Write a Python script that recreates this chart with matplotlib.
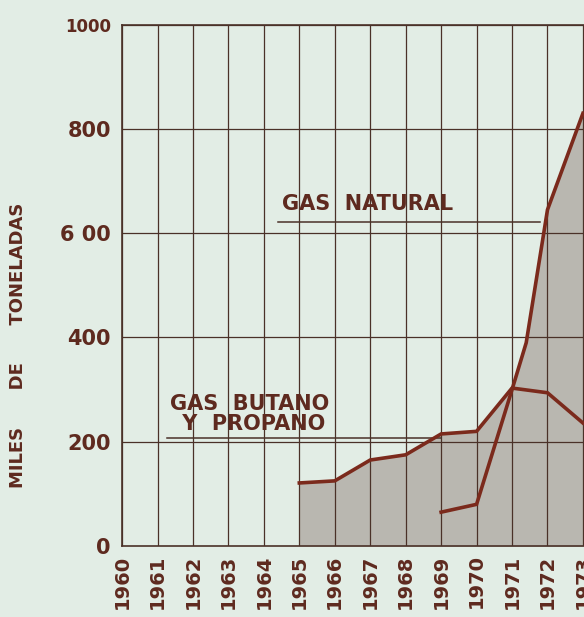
#! /usr/bin/env python3

# import packages
import matplotlib
matplotlib.use("Agg")
import matplotlib.pyplot as plt

# data
years = list(range(1960, 1974))
year_labels = [str(y) for y in years]

butano_years = [1965, 1966, 1967, 1968, 1969, 1970, 1971, 1972, 1973]
butano = [121, 125, 165, 175, 215, 220, 303, 294, 236]

natural_years = [1969, 1970, 1971, 1971.4, 1972, 1973]
natural = [65, 80, 300, 390, 645, 830]

y_ticks = [0, 200, 400, 600, 800, 1000]
y_labels = ["0", "200", "400", "6 00", "800", "1000"]

# colours
bg = "#e2ede5"
grid_col = "#4a3128"
line_col = "#7b2a1c"
text_col = "#5e2a1f"
fill_col = "#b9b7b0"

fig = plt.figure(figsize=(5.84, 6.17), dpi=100)
fig.patch.set_facecolor(bg)
ax = fig.add_axes([0.209, 0.115, 0.791, 0.845])
ax.set_facecolor(bg)

# shaded area under both series
ax.fill_between(butano_years, butano, 0, color=fill_col, lw=0, zorder=1)
ax.fill_between(natural_years, natural, 0, color=fill_col, lw=0, zorder=1)

# grid
for y in years:
    ax.axvline(y, color=grid_col, lw=0.9, zorder=2)
for v in y_ticks[1:]:
    ax.axhline(v, color=grid_col, lw=0.9, zorder=2)

# lines
ax.plot(butano_years, butano, color=line_col, lw=2.6, zorder=3,
        solid_joinstyle="miter")
ax.plot(natural_years, natural, color=line_col, lw=2.6, zorder=3,
        solid_joinstyle="miter")

# labels with underlines
ax.text(1964.5, 637, "GAS  NATURAL", color=text_col, fontsize=15,
        fontweight="bold", ha="left", va="bottom", zorder=4)
ax.plot([1964.4, 1971.8], [622, 622], color=grid_col, lw=1.1, zorder=2)

ax.text(1961.35, 254, "GAS  BUTANO", color=text_col, fontsize=15,
        fontweight="bold", ha="left", va="bottom", zorder=4)
ax.text(1961.5, 214, " Y  PROPANO", color=text_col, fontsize=15,
        fontweight="bold", ha="left", va="bottom", zorder=4)
ax.plot([1961.27, 1969.0], [207, 207], color=grid_col, lw=1.1, zorder=2)

# axes
ax.set_xlim(1960, 1973.03)
ax.set_ylim(0, 1000)
ax.set_xticks(years)
ax.set_xticklabels(year_labels, rotation=90, fontsize=14, fontweight="bold",
                   color=text_col)
ax.set_yticks(y_ticks)
ax.set_yticklabels(y_labels, fontsize=15, fontweight="bold", color=text_col)
ax.get_yticklabels()[-1].set_fontsize(12)
ax.tick_params(axis="both", length=0)
ax.tick_params(axis="y", pad=8)
ax.tick_params(axis="x", pad=6)

for s in ["top", "left", "bottom"]:
    ax.spines[s].set_color(grid_col)
    ax.spines[s].set_linewidth(1.2)
ax.spines["right"].set_visible(False)

fig.text(0.03, 0.44, "MILES      DE      TONELADAS", rotation=90, fontsize=13,
         fontweight="bold", color=text_col, ha="center", va="center")

fig.savefig("out.png", dpi=100, facecolor=bg)
